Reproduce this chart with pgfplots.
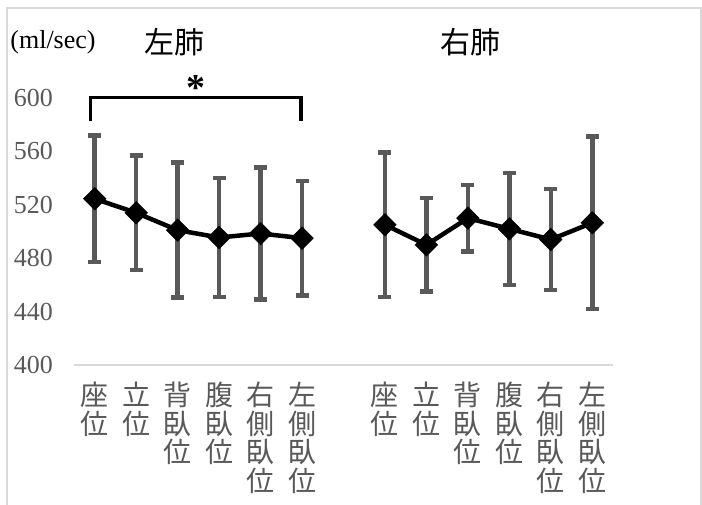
\documentclass[border=0pt]{standalone}
\usepackage{pgfplots}
\pgfplotsset{compat=1.18}
\usepackage{fontspec}
\setmainfont{Liberation Serif}
\newfontfamily\cjk{Noto Sans CJK JP}
\definecolor{bargray}{HTML}{595959}
\definecolor{framegray}{HTML}{D9D9D9}
\definecolor{labelgray}{HTML}{595959}

% mean and SD per posture (ml/sec)
\pgfplotstableread{
x  y      e
0  524.5  47.5
1  514    43
2  501    50.5
3  495.5  44.5
4  498.5  49.5
5  495    43
}\leftlung
\pgfplotstableread{
x  y      e
7  505    54
8  490    35
9  510    25
10 502    42
11 494    38
12 506.5  64.5
}\rightlung

\begin{document}
\begin{tikzpicture}[x=1pt,y=1pt]
\useasboundingbox (0,0) rectangle (702,504);
% outer chart frame
\draw[framegray, line width=1.5pt] (7,-5) -- (7,496) -- (701,496) -- (701,-5);
\begin{axis}[
  at={(74pt,139pt)}, anchor=south west,
  scale only axis, width=539pt, height=320.4pt,
  xmin=-0.5, xmax=12.5, ymin=400, ymax=640,
  clip=false,
  axis x line=bottom, axis y line=left,
  x axis line style={draw=framegray, line width=1.5pt, -},
  y axis line style={draw=none},
  major tick length=0pt,
  ytick={400,440,...,600},
  yticklabel style={font=\fontsize{26}{26}\selectfont, text=labelgray, anchor=east, inner sep=0pt, xshift=-21pt},
  /pgf/number format/assume math mode=true,
  xtick={0,1,2,3,4,5,7,8,9,10,11,12},
  xticklabels={座\\位, 立\\位, 背\\臥\\位, 腹\\臥\\位, 右\\側\\臥\\位, 左\\側\\臥\\位,
               座\\位, 立\\位, 背\\臥\\位, 腹\\臥\\位, 右\\側\\臥\\位, 左\\側\\臥\\位},
  xticklabel style={font=\cjk\fontsize{28}{28.5}\selectfont, text=labelgray, align=center, anchor=north, inner sep=0pt, yshift=-17pt},
]
% error bars first, so the mean line sits on top
\addplot[draw=none, mark=none, forget plot, error bars/.cd, y dir=both, y explicit,
  error bar style={draw=bargray, line width=4.5pt, solid},
  error mark=|, error mark options={draw=bargray, line width=4.5pt, mark size=6.5pt}]
  table[x=x, y=y, y error=e] {\leftlung};
\addplot[draw=none, mark=none, forget plot, error bars/.cd, y dir=both, y explicit,
  error bar style={draw=bargray, line width=4.5pt, solid},
  error mark=|, error mark options={draw=bargray, line width=4.5pt, mark size=6.5pt}]
  table[x=x, y=y, y error=e] {\rightlung};
\addplot[black, line width=4.5pt, mark=square*, mark size=8pt,
  mark options={rotate=45, line width=0.5pt, solid}] table[x=x, y=y] {\leftlung};
\addplot[black, line width=4.5pt, mark=square*, mark size=8pt,
  mark options={rotate=45, line width=0.5pt, solid}] table[x=x, y=y] {\rightlung};
% significance bracket
\draw[black, line width=3.5pt] (axis cs:-0.1,583) -- (axis cs:-0.1,600.5) -- (axis cs:4.98,600.5) -- (axis cs:4.98,583);
\node[font=\fontsize{38}{38}\selectfont\bfseries, anchor=base, inner sep=0pt] at (axis cs:2.45,598) {*};
\end{axis}
\node[font=\fontsize{26}{26}\selectfont] at (53,462) {(ml/sec)};
\node[font=\cjk\fontsize{30}{30}\selectfont] at (174,462) {左肺};
\node[font=\cjk\fontsize{30}{30}\selectfont] at (470,462) {右肺};
\end{tikzpicture}
\end{document}
